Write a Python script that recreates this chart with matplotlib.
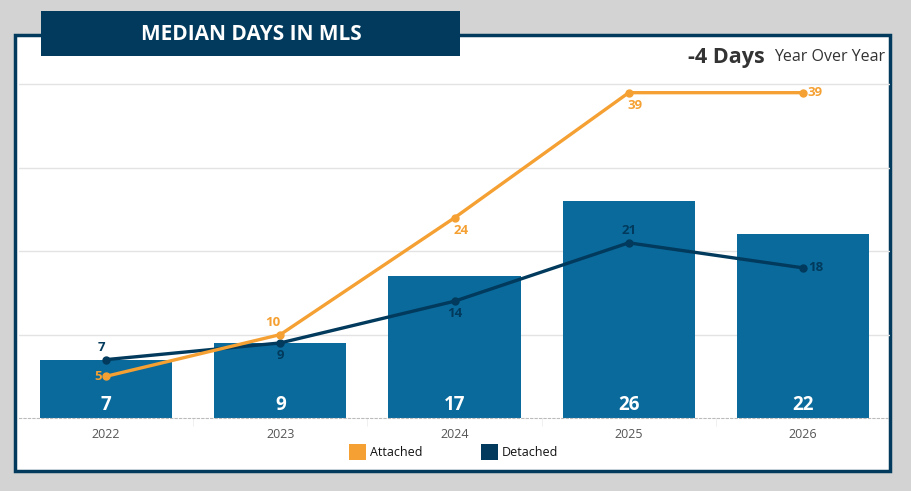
import matplotlib.pyplot as plt
from matplotlib.patches import Rectangle
import numpy as np

years = ['2022', '2023', '2024', '2025', '2026']
total = [7, 9, 17, 26, 22]
attached = [5, 10, 24, 39, 39]
detached = [7, 9, 14, 21, 18]

# label placement per point: (dx px, dy px, ha, va)
att_pos = [(-4, 0, 'right', 'center'), (-7, 6, 'center', 'bottom'), (7, -6, 'center', 'top'),
           (6, -6, 'center', 'top'), (5, 0, 'left', 'center')]
det_pos = [(-5, 6, 'center', 'bottom'), (0, -6, 'center', 'top'), (0, -6, 'center', 'top'),
           (0, 6, 'center', 'bottom'), (5, 0, 'left', 'center')]

BAR = '#0A6A9B'
NAVY = '#013A5C'
ORANGE = '#F5A032'
W, H = 912, 491

fig = plt.figure(figsize=(W / 100, H / 100), dpi=100)
fig.patch.set_facecolor('#D3D3D3')

# white panel with border
fig.patches.append(Rectangle((15 / W, 1 - 471 / H), 875 / W, 436 / H, transform=fig.transFigure,
                             facecolor='white', edgecolor=NAVY, linewidth=2.5, zorder=-5))
# title box
fig.patches.append(Rectangle((41 / W, 1 - 56 / H), 419 / W, 45 / H, transform=fig.transFigure,
                             facecolor=NAVY, edgecolor='none', zorder=-4))
fig.text(251 / W, 1 - 35 / H, 'MEDIAN DAYS IN MLS', color='white', fontsize=15, fontweight='bold',
         ha='center', va='center', family='Open Sans')
fig.text(765 / W, 1 - 57 / H, '-4 Days', color='#333333', fontsize=15.5, fontweight='bold',
         ha='right', va='center', family='Open Sans')
fig.text(885 / W, 1 - 57 / H, 'Year Over Year', color='#333333', fontsize=11.5,
         ha='right', va='center', family='Open Sans')

ax = fig.add_axes([19 / W, 1 - 418 / H, 871 / W, 342 / H])
ax.set_facecolor('none')
x = np.arange(len(years))
ax.set_xlim(-0.5, len(years) - 0.5)
ax.set_ylim(0, 41)

ax.bar(x, total, width=0.76, color=BAR, zorder=2)
for xi, v in zip(x, total):
    ax.annotate(str(v), (xi, 0), xytext=(0, 13), textcoords='offset pixels', ha='center', va='center',
                color='white', fontsize=13.5, fontweight='bold', family='Open Sans', zorder=5)

ax.plot(x, detached, color=NAVY, lw=2.4, marker='o', ms=5, zorder=3)
ax.plot(x, attached, color=ORANGE, lw=2.4, marker='o', ms=5, zorder=4)

for xi, v, (dx, dy, ha, va) in zip(x, attached, att_pos):
    ax.annotate(str(v), (xi, v), xytext=(dx, dy), textcoords='offset pixels', ha=ha, va=va,
                color=ORANGE, fontsize=9.5, fontweight='bold', family='Open Sans', zorder=6)
for xi, v, (dx, dy, ha, va) in zip(x, detached, det_pos):
    ax.annotate(str(v), (xi, v), xytext=(dx, dy), textcoords='offset pixels', ha=ha, va=va,
                color=NAVY, fontsize=9.5, fontweight='bold', family='Open Sans', zorder=6)

ax.set_yticks([10, 20, 30, 40])
ax.yaxis.grid(True, color='#E3E3E3', lw=1)
ax.set_axisbelow(True)
ax.tick_params(axis='y', left=False, labelleft=False)
for s in ['top', 'right', 'left']:
    ax.spines[s].set_visible(False)
ax.spines['bottom'].set_color('#BBBBBB')
ax.spines['bottom'].set_linestyle((0, (2, 2)))
ax.spines['bottom'].set_linewidth(0.8)

ax.set_xticks(x)
ax.set_xticklabels(years, color='#555555', fontsize=9, family='Open Sans')
ax.set_xticks(np.arange(0.5, len(years) - 0.5, 1), minor=True)
ax.tick_params(axis='x', which='major', length=0, pad=7)
ax.tick_params(axis='x', which='minor', length=6, color='#EEEEEE')

# legend
fig.patches.append(Rectangle((349 / W, 1 - 460 / H), 17 / W, 16 / H, transform=fig.transFigure,
                             facecolor=ORANGE, edgecolor='none'))
fig.text(370 / W, 1 - 452 / H, 'Attached', fontsize=9, color='#111111', va='center', family='Open Sans')
fig.patches.append(Rectangle((481 / W, 1 - 460 / H), 17 / W, 16 / H, transform=fig.transFigure,
                             facecolor=NAVY, edgecolor='none'))
fig.text(502 / W, 1 - 452 / H, 'Detached', fontsize=9, color='#111111', va='center', family='Open Sans')

fig.savefig('out.png', dpi=100, facecolor=fig.get_facecolor())
